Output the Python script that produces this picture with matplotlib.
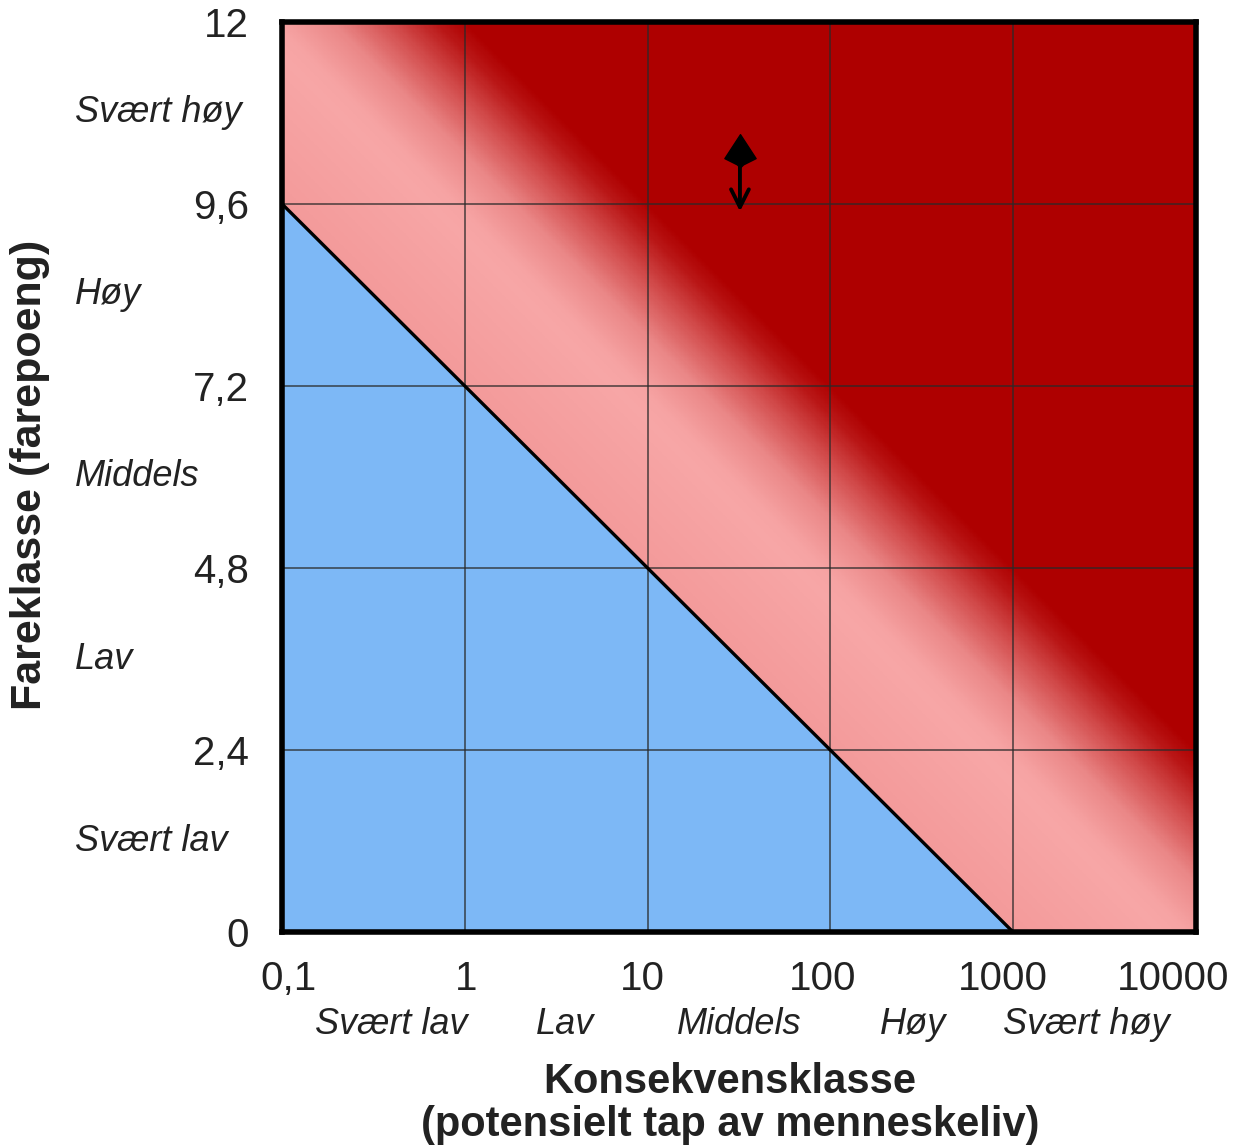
import numpy as np
import matplotlib
matplotlib.use("Agg")
import matplotlib.pyplot as plt
from matplotlib.colors import LinearSegmentedColormap
from matplotlib.path import Path
import matplotlib.transforms as mtransforms

plt.rcParams['font.family'] = ['Liberation Sans', 'DejaVu Sans']

# axis ticks
x_ticks = [0.1, 1, 10, 100, 1000, 10000]
x_tick_labels = ['0,1', '1', '10', '100', '1000', '10000']
y_ticks = [0, 2.4, 4.8, 7.2, 9.6, 12]
y_tick_labels = ['0', '2,4', '4,8', '7,2', '9,6', '12']

# class names (lowest to highest)
classes = ['Svært lav', 'Lav', 'Middels', 'Høy', 'Svært høy']

# zone boundaries
blue_line_x = [0.1, 1000]
blue_line_y = [9.6, 0]
red_band_start = 11.9   # farepoeng + 2.4 * decade where pink starts darkening
red_band_end = 14.4     # fully dark red

# the assessed point and its lower value
point_x = [32]
point_y = [10.25]
point_low = [9.5]

BLUE = '#7DB8F6'
DARK_RED = '#AE0000'
TEXT = '#222222'


def main():
    fig = plt.figure(figsize=(12.33, 11.48), dpi=100)
    ax = fig.add_axes([0.2287, 0.188, 0.7413, 0.793])
    ax.set_xscale('log')
    ax.set_xlim(x_ticks[0], x_ticks[-1])
    ax.set_ylim(y_ticks[0], y_ticks[-1])

    # background gradient: score s = y + slope * decade
    slope = (blue_line_y[0] - blue_line_y[1]) / np.log10(blue_line_x[1] / blue_line_x[0])
    u = np.linspace(0, np.log10(x_ticks[-1] / x_ticks[0]), 700)
    yy = np.linspace(y_ticks[0], y_ticks[-1], 700)
    U, Y = np.meshgrid(u, yy)
    S = Y + slope * U
    lo = blue_line_y[0]
    span = red_band_end - lo
    p = (red_band_start - lo) / span
    cmap = LinearSegmentedColormap.from_list('risk', [
        (0.0, '#F39A9A'),
        (p * 0.85, '#F7A6A6'),
        (p, '#F6A3A3'),
        (p + (1 - p) * 0.3, '#EA8787'),
        (p + (1 - p) * 0.6, '#D24C4C'),
        (p + (1 - p) * 0.85, '#B91616'),
        (1.0, DARK_RED)])
    ax.pcolormesh(x_ticks[0] * 10 ** U, Y, S, cmap=cmap, vmin=lo, vmax=red_band_end,
                  shading='auto', rasterized=True, zorder=0)

    # blue (acceptable) triangle
    ax.fill([blue_line_x[0], blue_line_x[0], blue_line_x[1]],
            [y_ticks[0], blue_line_y[0], blue_line_y[1]], color=BLUE, lw=0, zorder=1)
    ax.plot(blue_line_x, blue_line_y, color='black', lw=2.4, zorder=3)

    # grid
    ax.set_xticks(x_ticks)
    ax.set_xticklabels(x_tick_labels)
    ax.minorticks_off()
    ax.set_yticks(y_ticks)
    ax.set_yticklabels(y_tick_labels)
    ax.set_axisbelow(False)
    ax.grid(True, color='#2a2a2a', lw=1.1, alpha=0.85)
    ax.tick_params(axis='both', length=0, labelsize=29, colors=TEXT)
    ax.tick_params(axis='x', pad=20)
    ax.tick_params(axis='y', pad=24)
    # the labels sit a little left of their grid line, most at the right edge
    shifts = [7, 1, -5, -8, -10, -23]
    for lab, dx in zip(ax.get_xticklabels(), shifts):
        lab.set_transform(lab.get_transform() +
                          mtransforms.ScaledTranslation(dx / 100, 0, fig.dpi_scale_trans))
    for sp in ax.spines.values():
        sp.set_linewidth(4)
        sp.set_zorder(5)

    # point with arrow down to lower value
    head = Path([(0, 1.0), (0.75, -0.15), (0.15, -0.45), (0.0, -0.6),
                 (-0.15, -0.45), (-0.75, -0.15), (0, 1.0)],
                [Path.MOVETO] + [Path.LINETO] * 5 + [Path.CLOSEPOLY])
    ax.annotate('', xy=(point_x[0], point_low[0]), xytext=(point_x[0], point_y[0]),
                arrowprops=dict(arrowstyle='->', color='black', lw=2.8,
                                mutation_scale=32, shrinkA=0, shrinkB=0), zorder=6)
    ax.plot(point_x, point_y, marker=head, markersize=30, color='black', zorder=7)

    # class labels on y
    trans_y = mtransforms.blended_transform_factory(fig.transFigure, ax.transData)
    for i, name in enumerate(classes):
        ymid = (y_ticks[i] + y_ticks[i + 1]) / 2
        ax.text(75 / 1233, ymid, name, transform=trans_y, ha='left', va='center',
                fontsize=26, style='italic', color=TEXT)

    # class labels on x
    trans_x = mtransforms.blended_transform_factory(ax.transAxes, fig.transFigure)
    for i, name in enumerate(classes):
        xc = 0.120 + 0.19 * i
        ax.text(xc, 1 - 1024 / 1148, name, transform=trans_x, ha='center', va='center',
                fontsize=26, style='italic', color=TEXT)

    fig.text(0.592, 1 - 1082 / 1148, 'Konsekvensklasse', ha='center', va='center',
             fontsize=30, fontweight='bold', color=TEXT)
    fig.text(0.592, 1 - 1125 / 1148, '(potensielt tap av menneskeliv)', ha='center',
             va='center', fontsize=30, fontweight='bold', color=TEXT)
    fig.text(30 / 1233, 1 - 475 / 1148, 'Fareklasse (farepoeng)', rotation=90,
             ha='center', va='center', fontsize=31, fontweight='bold', color=TEXT)

    fig.savefig('out.png', dpi=100)


if __name__ == "__main__":
    main()
